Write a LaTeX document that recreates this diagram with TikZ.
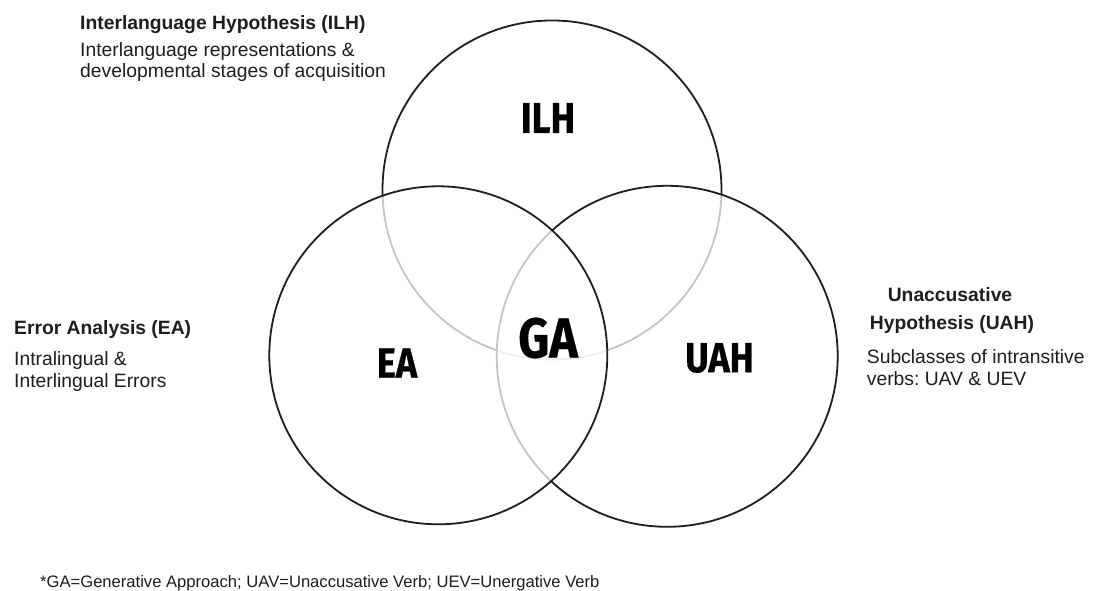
\documentclass[tikz,border=0pt]{standalone}
\usepackage{fontspec}
\setmainfont{Liberation Sans}
\newfontfamily\labelfont[FakeStretch=0.86,FakeBold=0.6]{Fira Sans}
\definecolor{ink}{HTML}{1E1E1E}
\frenchspacing
\begin{document}
\begin{tikzpicture}[x=1pt,y=-1pt,
  ring/.style={circle, draw=ink, line width=1.8pt, inner sep=0pt, minimum size=#1},
  veil/.style={fill=white, fill opacity=0.74},
  txt/.style={anchor=base west, inner sep=0pt, text=ink, font=\fontsize{19.3}{21}\selectfont},
  head/.style={txt, font=\fontsize{19.3}{21}\selectfont\bfseries},
  big/.style={inner sep=0pt, text=black, font=\labelfont\bfseries\fontsize{#1}{#1}\selectfont},
  note/.style={anchor=base west, inner sep=0pt, text=ink, font=\fontsize{16.6}{18}\selectfont}]
\useasboundingbox (0,0) rectangle (1093,591);
\fill[white] (0,0) rectangle (1093,591);
% circles
\node[ring=339pt] (cILH) at (552,190) {};
\node[ring=341pt, veil] (cUAH) at (667.2,356.3) {};
\node[ring=338pt, veil] (cEA) at (438.3,355.3) {};
% circle labels
\node[big=43] (lILH) at (548,118) {ILH};
\node[big=42] (lEA) at (397,363) {EA};
\node[big=42] (lUAH) at (719.5,358) {UAH};
\node[big=56] (lGA) at (548,338) {GA};
% ILH text
\node[head] (tILH) at (80,29.3) {Interlanguage Hypothesis (ILH)};
\node[txt] (dILHa) at (80,56.7) {Interlanguage representations \&};
\node[txt] (dILHb) at (80,77.3) {developmental stages of acquisition};
% EA text
\node[head] (tEA) at (14,334.3) {Error Analysis (EA)};
\node[txt] (dEAa) at (14,365) {Intralingual \&};
\node[txt] (dEAb) at (14,387.3) {Interlingual Errors};
% UAH text
\node[head, anchor=base] (tUAHa) at (950,301.7) {Unaccusative};
\node[head, anchor=base] (tUAHb) at (952,329) {Hypothesis (UAH)};
\node[txt] (dUAHa) at (866.7,363.3) {Subclasses of intransitive};
\node[txt] (dUAHb) at (866.7,385) {verbs: UAV \& UEV};
% footnote
\node[note] (fn) at (40,587) {*GA=Generative Approach; UAV=Unaccusative Verb; UEV=Unergative Verb};
\end{tikzpicture}
\end{document}
